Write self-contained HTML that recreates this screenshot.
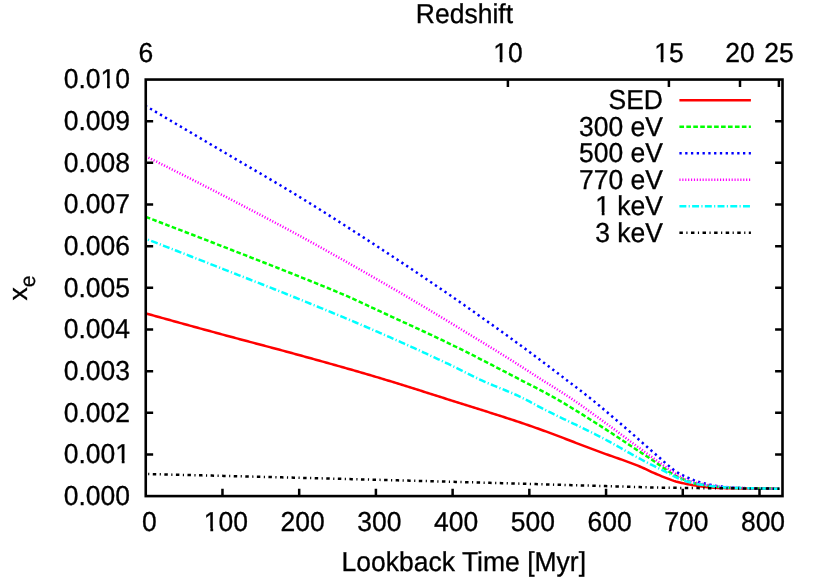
<!DOCTYPE html>
<html><head><meta charset="utf-8"><title>x_e vs Lookback Time</title>
<style>html,body{margin:0;padding:0;background:#fff}svg{display:block;will-change:transform}text{text-rendering:geometricPrecision;font-family:"Liberation Sans",sans-serif;font-size:26.5px;fill:#000;stroke:#000;stroke-width:.3px}</style></head><body>
<svg width="830" height="577" viewBox="0 0 830 577">
<rect width="830" height="577" fill="#fff"/>
<path d="M145.8,313.40 L147.8,313.96 L149.8,314.52 L151.8,315.07 L153.8,315.63 L155.8,316.19 L157.8,316.74 L159.8,317.30 L161.8,317.85 L163.8,318.41 L165.8,318.96 L167.8,319.52 L169.8,320.07 L171.8,320.63 L173.8,321.18 L175.8,321.73 L177.8,322.28 L179.8,322.84 L181.8,323.39 L183.8,323.94 L185.8,324.49 L187.8,325.04 L189.8,325.59 L191.8,326.14 L193.8,326.69 L195.8,327.24 L197.8,327.79 L199.8,328.34 L201.8,328.88 L203.8,329.43 L205.8,329.98 L207.8,330.53 L209.8,331.07 L211.8,331.62 L213.8,332.16 L215.8,332.71 L217.8,333.25 L219.8,333.80 L221.8,334.34 L223.8,334.89 L225.8,335.43 L227.8,335.97 L229.8,336.51 L231.8,337.05 L233.8,337.58 L235.8,338.12 L237.8,338.65 L239.8,339.19 L241.8,339.72 L243.8,340.25 L245.8,340.79 L247.8,341.32 L249.8,341.85 L251.8,342.38 L253.8,342.91 L255.8,343.44 L257.8,343.97 L259.8,344.50 L261.8,345.03 L263.8,345.57 L265.8,346.10 L267.8,346.63 L269.8,347.16 L271.8,347.69 L273.8,348.23 L275.8,348.76 L277.8,349.30 L279.8,349.83 L281.8,350.37 L283.8,350.91 L285.8,351.45 L287.8,351.99 L289.8,352.53 L291.8,353.08 L293.8,353.62 L295.8,354.17 L297.8,354.72 L299.8,355.27 L301.8,355.82 L303.8,356.37 L305.8,356.92 L307.8,357.48 L309.8,358.03 L311.8,358.58 L313.8,359.14 L315.8,359.69 L317.8,360.25 L319.8,360.80 L321.8,361.36 L323.8,361.92 L325.8,362.47 L327.8,363.03 L329.8,363.59 L331.8,364.15 L333.8,364.71 L335.8,365.28 L337.8,365.84 L339.8,366.41 L341.8,366.97 L343.8,367.54 L345.8,368.11 L347.8,368.68 L349.8,369.25 L351.8,369.82 L353.8,370.40 L355.8,370.97 L357.8,371.55 L359.8,372.13 L361.8,372.71 L363.8,373.29 L365.8,373.88 L367.8,374.46 L369.8,375.05 L371.8,375.64 L373.8,376.23 L375.8,376.83 L377.8,377.42 L379.8,378.02 L381.8,378.62 L383.8,379.23 L385.8,379.83 L387.8,380.44 L389.8,381.05 L391.8,381.66 L393.8,382.28 L395.8,382.90 L397.8,383.52 L399.8,384.14 L401.8,384.76 L403.8,385.38 L405.8,386.01 L407.8,386.63 L409.8,387.26 L411.8,387.89 L413.8,388.52 L415.8,389.15 L417.8,389.79 L419.8,390.42 L421.8,391.05 L423.8,391.69 L425.8,392.32 L427.8,392.96 L429.8,393.60 L431.8,394.23 L433.8,394.87 L435.8,395.51 L437.8,396.15 L439.8,396.78 L441.8,397.42 L443.8,398.06 L445.8,398.69 L447.8,399.33 L449.8,399.97 L451.8,400.60 L453.8,401.24 L455.8,401.87 L457.8,402.50 L459.8,403.13 L461.8,403.77 L463.8,404.39 L465.8,405.02 L467.8,405.65 L469.8,406.28 L471.8,406.91 L473.8,407.53 L475.8,408.16 L477.8,408.79 L479.8,409.42 L481.8,410.04 L483.8,410.67 L485.8,411.30 L487.8,411.93 L489.8,412.57 L491.8,413.20 L493.8,413.84 L495.8,414.47 L497.8,415.11 L499.8,415.75 L501.8,416.40 L503.8,417.04 L505.8,417.69 L507.8,418.34 L509.8,418.99 L511.8,419.65 L513.8,420.31 L515.8,420.97 L517.8,421.64 L519.8,422.31 L521.8,422.98 L523.8,423.66 L525.8,424.34 L527.8,425.02 L529.8,425.71 L531.8,426.41 L533.8,427.11 L535.8,427.82 L537.8,428.53 L539.8,429.25 L541.8,429.98 L543.8,430.71 L545.8,431.44 L547.8,432.18 L549.8,432.92 L551.8,433.67 L553.8,434.42 L555.8,435.17 L557.8,435.93 L559.8,436.68 L561.8,437.44 L563.8,438.20 L565.8,438.97 L567.8,439.73 L569.8,440.50 L571.8,441.26 L573.8,442.03 L575.8,442.80 L577.8,443.56 L579.8,444.33 L581.8,445.09 L583.8,445.86 L585.8,446.62 L587.8,447.38 L589.8,448.14 L591.8,448.89 L593.8,449.65 L595.8,450.40 L597.8,451.14 L599.8,451.89 L601.8,452.62 L603.8,453.35 L605.8,454.07 L607.8,454.78 L609.8,455.48 L611.8,456.19 L613.8,456.88 L615.8,457.58 L617.8,458.28 L619.8,458.98 L621.8,459.68 L623.8,460.40 L625.8,461.11 L627.8,461.84 L629.8,462.58 L631.8,463.33 L633.8,464.09 L635.8,464.87 L637.8,465.67 L639.8,466.49 L641.8,467.34 L643.8,468.24 L645.8,469.18 L647.8,470.14 L649.8,471.10 L651.8,472.02 L653.8,472.90 L655.8,473.77 L657.8,474.63 L659.8,475.47 L661.8,476.29 L663.8,477.09 L665.8,477.87 L667.8,478.66 L669.8,479.43 L671.8,480.17 L673.8,480.85 L675.8,481.46 L677.8,481.99 L679.8,482.48 L681.8,482.94 L683.8,483.37 L685.8,483.77 L687.8,484.16 L689.8,484.53 L691.8,484.90 L693.8,485.26 L695.8,485.60 L697.8,485.91 L699.8,486.20 L701.8,486.46 L703.8,486.69 L705.8,486.92 L707.8,487.14 L709.8,487.34 L711.8,487.52 L713.8,487.68 L715.8,487.81 L717.8,487.90 L719.8,487.97 L721.8,488.03 L723.8,488.09 L725.8,488.14 L727.8,488.18 L729.8,488.22 L731.8,488.25 L733.8,488.28 L735.8,488.31 L737.8,488.33 L739.8,488.36 L741.8,488.38 L743.8,488.39 L745.8,488.41 L747.8,488.43 L749.8,488.45 L751.8,488.47 L753.8,488.48 L755.8,488.50 L757.8,488.52 L759.8,488.54 L761.8,488.56 L763.8,488.57 L765.8,488.59 L767.8,488.61 L769.8,488.62 L771.8,488.64 L773.8,488.66 L775.8,488.67 L777.8,488.69 L779.3,488.70" fill="none" stroke="#ff0000" stroke-width="2.5"/>
<path d="M145.8,216.90 L147.8,217.66 L149.8,218.42 L151.8,219.19 L153.8,219.95 L155.8,220.71 L157.8,221.48 L159.8,222.24 L161.8,223.01 L163.8,223.77 L165.8,224.54 L167.8,225.30 L169.8,226.07 L171.8,226.83 L173.8,227.60 L175.8,228.37 L177.8,229.14 L179.8,229.90 L181.8,230.67 L183.8,231.44 L185.8,232.21 L187.8,232.98 L189.8,233.75 L191.8,234.52 L193.8,235.29 L195.8,236.07 L197.8,236.84 L199.8,237.61 L201.8,238.38 L203.8,239.16 L205.8,239.93 L207.8,240.70 L209.8,241.48 L211.8,242.25 L213.8,243.03 L215.8,243.80 L217.8,244.58 L219.8,245.35 L221.8,246.13 L223.8,246.91 L225.8,247.68 L227.8,248.46 L229.8,249.24 L231.8,250.01 L233.8,250.79 L235.8,251.57 L237.8,252.34 L239.8,253.12 L241.8,253.90 L243.8,254.68 L245.8,255.45 L247.8,256.23 L249.8,257.01 L251.8,257.79 L253.8,258.57 L255.8,259.35 L257.8,260.13 L259.8,260.91 L261.8,261.69 L263.8,262.47 L265.8,263.26 L267.8,264.04 L269.8,264.83 L271.8,265.61 L273.8,266.40 L275.8,267.19 L277.8,267.98 L279.8,268.77 L281.8,269.56 L283.8,270.35 L285.8,271.14 L287.8,271.94 L289.8,272.73 L291.8,273.53 L293.8,274.33 L295.8,275.13 L297.8,275.94 L299.8,276.74 L301.8,277.54 L303.8,278.35 L305.8,279.15 L307.8,279.95 L309.8,280.75 L311.8,281.56 L313.8,282.36 L315.8,283.17 L317.8,283.97 L319.8,284.78 L321.8,285.59 L323.8,286.40 L325.8,287.22 L327.8,288.03 L329.8,288.85 L331.8,289.68 L333.8,290.51 L335.8,291.34 L337.8,292.18 L339.8,293.03 L341.8,293.87 L343.8,294.73 L345.8,295.59 L347.8,296.46 L349.8,297.34 L351.8,298.22 L353.8,299.12 L355.8,300.03 L357.8,300.95 L359.8,301.88 L361.8,302.81 L363.8,303.75 L365.8,304.69 L367.8,305.63 L369.8,306.57 L371.8,307.51 L373.8,308.45 L375.8,309.38 L377.8,310.31 L379.8,311.24 L381.8,312.16 L383.8,313.09 L385.8,314.01 L387.8,314.93 L389.8,315.85 L391.8,316.77 L393.8,317.69 L395.8,318.60 L397.8,319.52 L399.8,320.44 L401.8,321.36 L403.8,322.28 L405.8,323.19 L407.8,324.11 L409.8,325.03 L411.8,325.95 L413.8,326.87 L415.8,327.80 L417.8,328.72 L419.8,329.65 L421.8,330.57 L423.8,331.50 L425.8,332.43 L427.8,333.37 L429.8,334.30 L431.8,335.24 L433.8,336.18 L435.8,337.12 L437.8,338.07 L439.8,339.02 L441.8,339.97 L443.8,340.93 L445.8,341.89 L447.8,342.85 L449.8,343.82 L451.8,344.79 L453.8,345.77 L455.8,346.75 L457.8,347.73 L459.8,348.72 L461.8,349.71 L463.8,350.71 L465.8,351.71 L467.8,352.71 L469.8,353.72 L471.8,354.73 L473.8,355.74 L475.8,356.76 L477.8,357.78 L479.8,358.80 L481.8,359.82 L483.8,360.85 L485.8,361.88 L487.8,362.91 L489.8,363.94 L491.8,364.97 L493.8,366.01 L495.8,367.04 L497.8,368.08 L499.8,369.12 L501.8,370.15 L503.8,371.19 L505.8,372.23 L507.8,373.27 L509.8,374.31 L511.8,375.35 L513.8,376.39 L515.8,377.43 L517.8,378.47 L519.8,379.51 L521.8,380.54 L523.8,381.58 L525.8,382.60 L527.8,383.63 L529.8,384.65 L531.8,385.67 L533.8,386.70 L535.8,387.73 L537.8,388.76 L539.8,389.80 L541.8,390.84 L543.8,391.90 L545.8,392.97 L547.8,394.04 L549.8,395.13 L551.8,396.24 L553.8,397.36 L555.8,398.50 L557.8,399.64 L559.8,400.80 L561.8,401.97 L563.8,403.16 L565.8,404.35 L567.8,405.55 L569.8,406.76 L571.8,407.98 L573.8,409.20 L575.8,410.44 L577.8,411.68 L579.8,412.92 L581.8,414.17 L583.8,415.43 L585.8,416.69 L587.8,417.95 L589.8,419.21 L591.8,420.48 L593.8,421.75 L595.8,423.02 L597.8,424.29 L599.8,425.56 L601.8,426.83 L603.8,428.11 L605.8,429.40 L607.8,430.69 L609.8,431.99 L611.8,433.30 L613.8,434.61 L615.8,435.93 L617.8,437.25 L619.8,438.57 L621.8,439.90 L623.8,441.23 L625.8,442.56 L627.8,443.88 L629.8,445.21 L631.8,446.54 L633.8,447.86 L635.8,449.18 L637.8,450.50 L639.8,451.81 L641.8,453.11 L643.8,454.40 L645.8,455.69 L647.8,456.98 L649.8,458.29 L651.8,459.63 L653.8,461.02 L655.8,462.44 L657.8,463.87 L659.8,465.31 L661.8,466.73 L663.8,468.11 L665.8,469.48 L667.8,470.85 L669.8,472.18 L671.8,473.45 L673.8,474.64 L675.8,475.77 L677.8,476.85 L679.8,477.83 L681.8,478.71 L683.8,479.53 L685.8,480.33 L687.8,481.07 L689.8,481.76 L691.8,482.38 L693.8,482.94 L695.8,483.42 L697.8,483.86 L699.8,484.26 L701.8,484.63 L703.8,484.96 L705.8,485.26 L707.8,485.55 L709.8,485.81 L711.8,486.06 L713.8,486.28 L715.8,486.49 L717.8,486.69 L719.8,486.86 L721.8,487.04 L723.8,487.20 L725.8,487.36 L727.8,487.50 L729.8,487.63 L731.8,487.75 L733.8,487.85 L735.8,487.93 L737.8,488.00 L739.8,488.06 L741.8,488.12 L743.8,488.17 L745.8,488.21 L747.8,488.26 L749.8,488.30 L751.8,488.33 L753.8,488.37 L755.8,488.41 L757.8,488.44 L759.8,488.47 L761.8,488.51 L763.8,488.54 L765.8,488.57 L767.8,488.59 L769.8,488.62 L771.8,488.64 L773.8,488.66 L775.8,488.68 L777.8,488.69 L779.3,488.70" fill="none" stroke="#00ff00" stroke-width="2.5" stroke-dasharray="4.63,2.31"/>
<path d="M145.8,106.00 L147.8,107.18 L149.8,108.36 L151.8,109.54 L153.8,110.73 L155.8,111.91 L157.8,113.09 L159.8,114.27 L161.8,115.45 L163.8,116.63 L165.8,117.81 L167.8,119.00 L169.8,120.18 L171.8,121.36 L173.8,122.54 L175.8,123.72 L177.8,124.90 L179.8,126.09 L181.8,127.27 L183.8,128.45 L185.8,129.63 L187.8,130.81 L189.8,132.00 L191.8,133.18 L193.8,134.36 L195.8,135.54 L197.8,136.73 L199.8,137.91 L201.8,139.09 L203.8,140.27 L205.8,141.46 L207.8,142.64 L209.8,143.82 L211.8,145.00 L213.8,146.19 L215.8,147.37 L217.8,148.55 L219.8,149.73 L221.8,150.92 L223.8,152.10 L225.8,153.27 L227.8,154.45 L229.8,155.63 L231.8,156.80 L233.8,157.97 L235.8,159.15 L237.8,160.32 L239.8,161.49 L241.8,162.66 L243.8,163.83 L245.8,165.00 L247.8,166.17 L249.8,167.34 L251.8,168.51 L253.8,169.68 L255.8,170.85 L257.8,172.02 L259.8,173.19 L261.8,174.37 L263.8,175.54 L265.8,176.72 L267.8,177.90 L269.8,179.08 L271.8,180.26 L273.8,181.45 L275.8,182.63 L277.8,183.82 L279.8,185.01 L281.8,186.21 L283.8,187.41 L285.8,188.61 L287.8,189.81 L289.8,191.02 L291.8,192.23 L293.8,193.44 L295.8,194.66 L297.8,195.89 L299.8,197.11 L301.8,198.34 L303.8,199.57 L305.8,200.81 L307.8,202.05 L309.8,203.29 L311.8,204.53 L313.8,205.78 L315.8,207.03 L317.8,208.28 L319.8,209.53 L321.8,210.79 L323.8,212.05 L325.8,213.31 L327.8,214.57 L329.8,215.84 L331.8,217.10 L333.8,218.37 L335.8,219.65 L337.8,220.92 L339.8,222.20 L341.8,223.47 L343.8,224.75 L345.8,226.04 L347.8,227.32 L349.8,228.61 L351.8,229.89 L353.8,231.18 L355.8,232.47 L357.8,233.77 L359.8,235.06 L361.8,236.36 L363.8,237.65 L365.8,238.95 L367.8,240.25 L369.8,241.55 L371.8,242.85 L373.8,244.16 L375.8,245.46 L377.8,246.77 L379.8,248.08 L381.8,249.39 L383.8,250.70 L385.8,252.02 L387.8,253.33 L389.8,254.65 L391.8,255.97 L393.8,257.29 L395.8,258.61 L397.8,259.94 L399.8,261.26 L401.8,262.59 L403.8,263.92 L405.8,265.25 L407.8,266.59 L409.8,267.92 L411.8,269.26 L413.8,270.60 L415.8,271.94 L417.8,273.29 L419.8,274.63 L421.8,275.98 L423.8,277.33 L425.8,278.68 L427.8,280.04 L429.8,281.39 L431.8,282.75 L433.8,284.12 L435.8,285.48 L437.8,286.84 L439.8,288.21 L441.8,289.58 L443.8,290.96 L445.8,292.33 L447.8,293.71 L449.8,295.09 L451.8,296.47 L453.8,297.86 L455.8,299.24 L457.8,300.63 L459.8,302.02 L461.8,303.42 L463.8,304.81 L465.8,306.21 L467.8,307.61 L469.8,309.01 L471.8,310.42 L473.8,311.83 L475.8,313.23 L477.8,314.65 L479.8,316.06 L481.8,317.48 L483.8,318.90 L485.8,320.32 L487.8,321.74 L489.8,323.17 L491.8,324.59 L493.8,326.02 L495.8,327.46 L497.8,328.89 L499.8,330.33 L501.8,331.77 L503.8,333.21 L505.8,334.66 L507.8,336.10 L509.8,337.55 L511.8,339.00 L513.8,340.46 L515.8,341.91 L517.8,343.37 L519.8,344.83 L521.8,346.30 L523.8,347.76 L525.8,349.23 L527.8,350.71 L529.8,352.18 L531.8,353.66 L533.8,355.15 L535.8,356.65 L537.8,358.15 L539.8,359.65 L541.8,361.16 L543.8,362.67 L545.8,364.18 L547.8,365.70 L549.8,367.22 L551.8,368.74 L553.8,370.27 L555.8,371.79 L557.8,373.32 L559.8,374.84 L561.8,376.37 L563.8,377.89 L565.8,379.42 L567.8,380.94 L569.8,382.46 L571.8,383.97 L573.8,385.49 L575.8,387.01 L577.8,388.54 L579.8,390.07 L581.8,391.60 L583.8,393.15 L585.8,394.71 L587.8,396.29 L589.8,397.88 L591.8,399.49 L593.8,401.11 L595.8,402.76 L597.8,404.41 L599.8,406.07 L601.8,407.75 L603.8,409.42 L605.8,411.11 L607.8,412.79 L609.8,414.48 L611.8,416.18 L613.8,417.88 L615.8,419.59 L617.8,421.30 L619.8,423.01 L621.8,424.73 L623.8,426.46 L625.8,428.19 L627.8,429.93 L629.8,431.66 L631.8,433.41 L633.8,435.15 L635.8,436.90 L637.8,438.66 L639.8,440.43 L641.8,442.22 L643.8,444.01 L645.8,445.78 L647.8,447.53 L649.8,449.28 L651.8,451.01 L653.8,452.74 L655.8,454.48 L657.8,456.22 L659.8,457.97 L661.8,459.77 L663.8,461.57 L665.8,463.34 L667.8,465.04 L669.8,466.71 L671.8,468.37 L673.8,469.95 L675.8,471.39 L677.8,472.63 L679.8,473.76 L681.8,474.79 L683.8,475.76 L685.8,476.68 L687.8,477.60 L689.8,478.50 L691.8,479.38 L693.8,480.21 L695.8,480.97 L697.8,481.64 L699.8,482.25 L701.8,482.81 L703.8,483.32 L705.8,483.80 L707.8,484.25 L709.8,484.67 L711.8,485.08 L713.8,485.47 L715.8,485.82 L717.8,486.12 L719.8,486.38 L721.8,486.61 L723.8,486.82 L725.8,487.01 L727.8,487.19 L729.8,487.35 L731.8,487.50 L733.8,487.63 L735.8,487.74 L737.8,487.84 L739.8,487.94 L741.8,488.03 L743.8,488.11 L745.8,488.18 L747.8,488.24 L749.8,488.29 L751.8,488.34 L753.8,488.38 L755.8,488.42 L757.8,488.46 L759.8,488.50 L761.8,488.53 L763.8,488.56 L765.8,488.59 L767.8,488.62 L769.8,488.65 L771.8,488.67 L773.8,488.68 L775.8,488.69 L777.8,488.70 L779.3,488.70" fill="none" stroke="#0000ff" stroke-width="2.5" stroke-dasharray="2.31,3.47" stroke-dashoffset="0.85"/>
<path d="M145.8,156.30 L147.8,157.29 L149.8,158.29 L151.8,159.28 L153.8,160.28 L155.8,161.27 L157.8,162.27 L159.8,163.27 L161.8,164.27 L163.8,165.27 L165.8,166.28 L167.8,167.28 L169.8,168.29 L171.8,169.29 L173.8,170.30 L175.8,171.31 L177.8,172.32 L179.8,173.33 L181.8,174.34 L183.8,175.35 L185.8,176.37 L187.8,177.38 L189.8,178.40 L191.8,179.41 L193.8,180.43 L195.8,181.45 L197.8,182.47 L199.8,183.49 L201.8,184.52 L203.8,185.54 L205.8,186.56 L207.8,187.59 L209.8,188.61 L211.8,189.64 L213.8,190.67 L215.8,191.70 L217.8,192.73 L219.8,193.76 L221.8,194.79 L223.8,195.82 L225.8,196.86 L227.8,197.89 L229.8,198.93 L231.8,199.96 L233.8,201.00 L235.8,202.04 L237.8,203.08 L239.8,204.12 L241.8,205.16 L243.8,206.20 L245.8,207.24 L247.8,208.28 L249.8,209.33 L251.8,210.37 L253.8,211.42 L255.8,212.47 L257.8,213.52 L259.8,214.57 L261.8,215.62 L263.8,216.67 L265.8,217.73 L267.8,218.78 L269.8,219.84 L271.8,220.90 L273.8,221.96 L275.8,223.02 L277.8,224.08 L279.8,225.15 L281.8,226.22 L283.8,227.29 L285.8,228.36 L287.8,229.43 L289.8,230.51 L291.8,231.59 L293.8,232.67 L295.8,233.75 L297.8,234.83 L299.8,235.92 L301.8,237.01 L303.8,238.10 L305.8,239.19 L307.8,240.29 L309.8,241.39 L311.8,242.49 L313.8,243.60 L315.8,244.70 L317.8,245.81 L319.8,246.93 L321.8,248.04 L323.8,249.15 L325.8,250.27 L327.8,251.39 L329.8,252.51 L331.8,253.63 L333.8,254.76 L335.8,255.88 L337.8,257.01 L339.8,258.14 L341.8,259.27 L343.8,260.40 L345.8,261.53 L347.8,262.66 L349.8,263.79 L351.8,264.93 L353.8,266.06 L355.8,267.20 L357.8,268.33 L359.8,269.47 L361.8,270.61 L363.8,271.75 L365.8,272.89 L367.8,274.03 L369.8,275.17 L371.8,276.31 L373.8,277.46 L375.8,278.61 L377.8,279.76 L379.8,280.91 L381.8,282.06 L383.8,283.21 L385.8,284.37 L387.8,285.52 L389.8,286.68 L391.8,287.84 L393.8,289.00 L395.8,290.17 L397.8,291.33 L399.8,292.50 L401.8,293.67 L403.8,294.85 L405.8,296.02 L407.8,297.20 L409.8,298.38 L411.8,299.56 L413.8,300.75 L415.8,301.93 L417.8,303.13 L419.8,304.32 L421.8,305.52 L423.8,306.71 L425.8,307.91 L427.8,309.12 L429.8,310.32 L431.8,311.53 L433.8,312.73 L435.8,313.94 L437.8,315.15 L439.8,316.36 L441.8,317.57 L443.8,318.79 L445.8,320.00 L447.8,321.21 L449.8,322.43 L451.8,323.64 L453.8,324.86 L455.8,326.07 L457.8,327.28 L459.8,328.50 L461.8,329.71 L463.8,330.93 L465.8,332.15 L467.8,333.36 L469.8,334.58 L471.8,335.80 L473.8,337.02 L475.8,338.24 L477.8,339.46 L479.8,340.68 L481.8,341.91 L483.8,343.13 L485.8,344.36 L487.8,345.59 L489.8,346.82 L491.8,348.05 L493.8,349.29 L495.8,350.52 L497.8,351.76 L499.8,353.01 L501.8,354.25 L503.8,355.50 L505.8,356.75 L507.8,358.00 L509.8,359.26 L511.8,360.52 L513.8,361.79 L515.8,363.07 L517.8,364.34 L519.8,365.63 L521.8,366.91 L523.8,368.20 L525.8,369.49 L527.8,370.78 L529.8,372.07 L531.8,373.36 L533.8,374.65 L535.8,375.93 L537.8,377.22 L539.8,378.50 L541.8,379.78 L543.8,381.05 L545.8,382.31 L547.8,383.56 L549.8,384.81 L551.8,386.05 L553.8,387.30 L555.8,388.55 L557.8,389.80 L559.8,391.06 L561.8,392.33 L563.8,393.61 L565.8,394.91 L567.8,396.22 L569.8,397.55 L571.8,398.90 L573.8,400.26 L575.8,401.64 L577.8,403.03 L579.8,404.43 L581.8,405.84 L583.8,407.26 L585.8,408.69 L587.8,410.12 L589.8,411.56 L591.8,413.00 L593.8,414.45 L595.8,415.89 L597.8,417.34 L599.8,418.79 L601.8,420.23 L603.8,421.69 L605.8,423.15 L607.8,424.62 L609.8,426.09 L611.8,427.57 L613.8,429.05 L615.8,430.54 L617.8,432.03 L619.8,433.52 L621.8,435.02 L623.8,436.51 L625.8,438.00 L627.8,439.49 L629.8,440.98 L631.8,442.46 L633.8,443.95 L635.8,445.42 L637.8,446.89 L639.8,448.35 L641.8,449.81 L643.8,451.26 L645.8,452.71 L647.8,454.15 L649.8,455.59 L651.8,457.03 L653.8,458.47 L655.8,459.90 L657.8,461.32 L659.8,462.75 L661.8,464.19 L663.8,465.65 L665.8,467.10 L667.8,468.54 L669.8,469.95 L671.8,471.32 L673.8,472.64 L675.8,473.92 L677.8,475.19 L679.8,476.41 L681.8,477.54 L683.8,478.52 L685.8,479.40 L687.8,480.22 L689.8,480.97 L691.8,481.64 L693.8,482.23 L695.8,482.73 L697.8,483.16 L699.8,483.55 L701.8,483.91 L703.8,484.26 L705.8,484.61 L707.8,484.96 L709.8,485.30 L711.8,485.63 L713.8,485.94 L715.8,486.22 L717.8,486.47 L719.8,486.68 L721.8,486.87 L723.8,487.05 L725.8,487.21 L727.8,487.37 L729.8,487.51 L731.8,487.63 L733.8,487.74 L735.8,487.83 L737.8,487.92 L739.8,488.00 L741.8,488.07 L743.8,488.14 L745.8,488.20 L747.8,488.25 L749.8,488.29 L751.8,488.34 L753.8,488.38 L755.8,488.41 L757.8,488.45 L759.8,488.49 L761.8,488.53 L763.8,488.56 L765.8,488.59 L767.8,488.62 L769.8,488.64 L771.8,488.66 L773.8,488.68 L775.8,488.69 L777.8,488.70 L779.3,488.70" fill="none" stroke="#ff00ff" stroke-width="2.5" stroke-dasharray="1.16,1.74"/>
<path d="M145.8,238.80 L147.8,239.58 L149.8,240.36 L151.8,241.13 L153.8,241.91 L155.8,242.69 L157.8,243.47 L159.8,244.25 L161.8,245.03 L163.8,245.81 L165.8,246.59 L167.8,247.37 L169.8,248.15 L171.8,248.93 L173.8,249.71 L175.8,250.49 L177.8,251.27 L179.8,252.06 L181.8,252.84 L183.8,253.62 L185.8,254.40 L187.8,255.18 L189.8,255.97 L191.8,256.75 L193.8,257.53 L195.8,258.32 L197.8,259.10 L199.8,259.89 L201.8,260.67 L203.8,261.45 L205.8,262.24 L207.8,263.02 L209.8,263.81 L211.8,264.59 L213.8,265.38 L215.8,266.17 L217.8,266.95 L219.8,267.74 L221.8,268.53 L223.8,269.31 L225.8,270.10 L227.8,270.89 L229.8,271.67 L231.8,272.46 L233.8,273.24 L235.8,274.03 L237.8,274.81 L239.8,275.59 L241.8,276.38 L243.8,277.16 L245.8,277.95 L247.8,278.73 L249.8,279.52 L251.8,280.30 L253.8,281.09 L255.8,281.87 L257.8,282.66 L259.8,283.45 L261.8,284.23 L263.8,285.02 L265.8,285.81 L267.8,286.60 L269.8,287.39 L271.8,288.18 L273.8,288.98 L275.8,289.77 L277.8,290.57 L279.8,291.36 L281.8,292.16 L283.8,292.96 L285.8,293.76 L287.8,294.56 L289.8,295.36 L291.8,296.17 L293.8,296.97 L295.8,297.78 L297.8,298.59 L299.8,299.40 L301.8,300.21 L303.8,301.03 L305.8,301.84 L307.8,302.65 L309.8,303.47 L311.8,304.28 L313.8,305.10 L315.8,305.92 L317.8,306.74 L319.8,307.55 L321.8,308.37 L323.8,309.19 L325.8,310.02 L327.8,310.84 L329.8,311.66 L331.8,312.49 L333.8,313.32 L335.8,314.14 L337.8,314.97 L339.8,315.80 L341.8,316.64 L343.8,317.47 L345.8,318.31 L347.8,319.14 L349.8,319.98 L351.8,320.83 L353.8,321.67 L355.8,322.51 L357.8,323.36 L359.8,324.21 L361.8,325.06 L363.8,325.92 L365.8,326.77 L367.8,327.63 L369.8,328.49 L371.8,329.36 L373.8,330.22 L375.8,331.09 L377.8,331.96 L379.8,332.83 L381.8,333.71 L383.8,334.59 L385.8,335.46 L387.8,336.34 L389.8,337.23 L391.8,338.11 L393.8,339.00 L395.8,339.89 L397.8,340.78 L399.8,341.67 L401.8,342.56 L403.8,343.46 L405.8,344.36 L407.8,345.26 L409.8,346.16 L411.8,347.07 L413.8,347.97 L415.8,348.88 L417.8,349.79 L419.8,350.71 L421.8,351.62 L423.8,352.54 L425.8,353.46 L427.8,354.38 L429.8,355.31 L431.8,356.24 L433.8,357.17 L435.8,358.10 L437.8,359.03 L439.8,359.97 L441.8,360.91 L443.8,361.85 L445.8,362.79 L447.8,363.74 L449.8,364.69 L451.8,365.64 L453.8,366.60 L455.8,367.57 L457.8,368.56 L459.8,369.56 L461.8,370.57 L463.8,371.59 L465.8,372.60 L467.8,373.62 L469.8,374.63 L471.8,375.63 L473.8,376.63 L475.8,377.61 L477.8,378.57 L479.8,379.51 L481.8,380.43 L483.8,381.33 L485.8,382.21 L487.8,383.08 L489.8,383.93 L491.8,384.76 L493.8,385.59 L495.8,386.41 L497.8,387.22 L499.8,388.04 L501.8,388.85 L503.8,389.67 L505.8,390.49 L507.8,391.32 L509.8,392.16 L511.8,393.01 L513.8,393.88 L515.8,394.76 L517.8,395.67 L519.8,396.60 L521.8,397.56 L523.8,398.55 L525.8,399.57 L527.8,400.62 L529.8,401.69 L531.8,402.78 L533.8,403.87 L535.8,404.96 L537.8,406.05 L539.8,407.13 L541.8,408.19 L543.8,409.22 L545.8,410.24 L547.8,411.25 L549.8,412.24 L551.8,413.23 L553.8,414.21 L555.8,415.19 L557.8,416.16 L559.8,417.12 L561.8,418.08 L563.8,419.03 L565.8,419.99 L567.8,420.94 L569.8,421.89 L571.8,422.84 L573.8,423.79 L575.8,424.74 L577.8,425.69 L579.8,426.65 L581.8,427.61 L583.8,428.57 L585.8,429.54 L587.8,430.52 L589.8,431.51 L591.8,432.50 L593.8,433.50 L595.8,434.51 L597.8,435.53 L599.8,436.56 L601.8,437.60 L603.8,438.66 L605.8,439.74 L607.8,440.82 L609.8,441.92 L611.8,443.03 L613.8,444.15 L615.8,445.27 L617.8,446.40 L619.8,447.53 L621.8,448.67 L623.8,449.80 L625.8,450.93 L627.8,452.07 L629.8,453.19 L631.8,454.31 L633.8,455.42 L635.8,456.53 L637.8,457.62 L639.8,458.70 L641.8,459.77 L643.8,460.82 L645.8,461.87 L647.8,462.91 L649.8,463.94 L651.8,464.97 L653.8,465.98 L655.8,466.97 L657.8,467.95 L659.8,468.93 L661.8,469.92 L663.8,470.92 L665.8,471.96 L667.8,473.04 L669.8,474.14 L671.8,475.20 L673.8,476.18 L675.8,477.10 L677.8,478.00 L679.8,478.87 L681.8,479.70 L683.8,480.46 L685.8,481.14 L687.8,481.74 L689.8,482.30 L691.8,482.82 L693.8,483.30 L695.8,483.75 L697.8,484.16 L699.8,484.52 L701.8,484.85 L703.8,485.16 L705.8,485.46 L707.8,485.73 L709.8,485.98 L711.8,486.21 L713.8,486.42 L715.8,486.60 L717.8,486.78 L719.8,486.95 L721.8,487.11 L723.8,487.26 L725.8,487.40 L727.8,487.53 L729.8,487.65 L731.8,487.76 L733.8,487.85 L735.8,487.93 L737.8,488.00 L739.8,488.06 L741.8,488.12 L743.8,488.17 L745.8,488.21 L747.8,488.26 L749.8,488.30 L751.8,488.33 L753.8,488.37 L755.8,488.41 L757.8,488.44 L759.8,488.47 L761.8,488.51 L763.8,488.54 L765.8,488.57 L767.8,488.59 L769.8,488.62 L771.8,488.64 L773.8,488.66 L775.8,488.68 L777.8,488.69 L779.3,488.70" fill="none" stroke="#00ffff" stroke-width="2.5" stroke-dasharray="6.94,2.31,1.16,2.31" stroke-dashoffset="6.94"/>
<path d="M145.8,474.00 L147.8,474.05 L149.8,474.10 L151.8,474.14 L153.8,474.19 L155.8,474.24 L157.8,474.29 L159.8,474.34 L161.8,474.38 L163.8,474.43 L165.8,474.48 L167.8,474.53 L169.8,474.58 L171.8,474.63 L173.8,474.67 L175.8,474.72 L177.8,474.77 L179.8,474.82 L181.8,474.87 L183.8,474.92 L185.8,474.97 L187.8,475.02 L189.8,475.06 L191.8,475.11 L193.8,475.16 L195.8,475.21 L197.8,475.26 L199.8,475.31 L201.8,475.36 L203.8,475.41 L205.8,475.46 L207.8,475.50 L209.8,475.55 L211.8,475.60 L213.8,475.65 L215.8,475.70 L217.8,475.75 L219.8,475.80 L221.8,475.85 L223.8,475.90 L225.8,475.95 L227.8,476.00 L229.8,476.05 L231.8,476.10 L233.8,476.15 L235.8,476.20 L237.8,476.25 L239.8,476.30 L241.8,476.35 L243.8,476.40 L245.8,476.45 L247.8,476.50 L249.8,476.55 L251.8,476.60 L253.8,476.65 L255.8,476.70 L257.8,476.75 L259.8,476.80 L261.8,476.85 L263.8,476.90 L265.8,476.95 L267.8,477.00 L269.8,477.05 L271.8,477.10 L273.8,477.15 L275.8,477.20 L277.8,477.25 L279.8,477.30 L281.8,477.35 L283.8,477.40 L285.8,477.45 L287.8,477.50 L289.8,477.55 L291.8,477.60 L293.8,477.65 L295.8,477.70 L297.8,477.76 L299.8,477.81 L301.8,477.86 L303.8,477.91 L305.8,477.96 L307.8,478.01 L309.8,478.06 L311.8,478.11 L313.8,478.16 L315.8,478.21 L317.8,478.27 L319.8,478.32 L321.8,478.37 L323.8,478.42 L325.8,478.47 L327.8,478.52 L329.8,478.57 L331.8,478.63 L333.8,478.68 L335.8,478.73 L337.8,478.78 L339.8,478.83 L341.8,478.88 L343.8,478.94 L345.8,478.99 L347.8,479.04 L349.8,479.09 L351.8,479.14 L353.8,479.19 L355.8,479.25 L357.8,479.30 L359.8,479.35 L361.8,479.40 L363.8,479.45 L365.8,479.51 L367.8,479.56 L369.8,479.61 L371.8,479.66 L373.8,479.72 L375.8,479.77 L377.8,479.82 L379.8,479.87 L381.8,479.93 L383.8,479.98 L385.8,480.03 L387.8,480.08 L389.8,480.14 L391.8,480.19 L393.8,480.24 L395.8,480.29 L397.8,480.35 L399.8,480.40 L401.8,480.45 L403.8,480.51 L405.8,480.56 L407.8,480.61 L409.8,480.67 L411.8,480.72 L413.8,480.77 L415.8,480.82 L417.8,480.88 L419.8,480.93 L421.8,480.98 L423.8,481.04 L425.8,481.09 L427.8,481.15 L429.8,481.20 L431.8,481.25 L433.8,481.31 L435.8,481.36 L437.8,481.41 L439.8,481.47 L441.8,481.52 L443.8,481.57 L445.8,481.63 L447.8,481.68 L449.8,481.74 L451.8,481.79 L453.8,481.84 L455.8,481.90 L457.8,481.95 L459.8,482.01 L461.8,482.06 L463.8,482.12 L465.8,482.17 L467.8,482.23 L469.8,482.28 L471.8,482.34 L473.8,482.39 L475.8,482.45 L477.8,482.50 L479.8,482.56 L481.8,482.61 L483.8,482.67 L485.8,482.72 L487.8,482.78 L489.8,482.83 L491.8,482.89 L493.8,482.94 L495.8,483.00 L497.8,483.06 L499.8,483.11 L501.8,483.17 L503.8,483.22 L505.8,483.28 L507.8,483.33 L509.8,483.39 L511.8,483.45 L513.8,483.50 L515.8,483.56 L517.8,483.61 L519.8,483.67 L521.8,483.73 L523.8,483.78 L525.8,483.84 L527.8,483.90 L529.8,483.95 L531.8,484.01 L533.8,484.07 L535.8,484.12 L537.8,484.18 L539.8,484.23 L541.8,484.29 L543.8,484.35 L545.8,484.40 L547.8,484.46 L549.8,484.52 L551.8,484.57 L553.8,484.63 L555.8,484.69 L557.8,484.74 L559.8,484.80 L561.8,484.85 L563.8,484.91 L565.8,484.97 L567.8,485.02 L569.8,485.08 L571.8,485.14 L573.8,485.19 L575.8,485.25 L577.8,485.31 L579.8,485.36 L581.8,485.42 L583.8,485.47 L585.8,485.53 L587.8,485.59 L589.8,485.64 L591.8,485.70 L593.8,485.75 L595.8,485.81 L597.8,485.87 L599.8,485.92 L601.8,485.98 L603.8,486.03 L605.8,486.09 L607.8,486.15 L609.8,486.20 L611.8,486.26 L613.8,486.32 L615.8,486.38 L617.8,486.45 L619.8,486.51 L621.8,486.57 L623.8,486.63 L625.8,486.70 L627.8,486.76 L629.8,486.82 L631.8,486.89 L633.8,486.95 L635.8,487.01 L637.8,487.07 L639.8,487.12 L641.8,487.18 L643.8,487.24 L645.8,487.29 L647.8,487.34 L649.8,487.39 L651.8,487.44 L653.8,487.48 L655.8,487.52 L657.8,487.56 L659.8,487.60 L661.8,487.63 L663.8,487.66 L665.8,487.69 L667.8,487.73 L669.8,487.76 L671.8,487.79 L673.8,487.82 L675.8,487.84 L677.8,487.87 L679.8,487.90 L681.8,487.93 L683.8,487.95 L685.8,487.98 L687.8,488.00 L689.8,488.03 L691.8,488.05 L693.8,488.07 L695.8,488.10 L697.8,488.12 L699.8,488.14 L701.8,488.16 L703.8,488.18 L705.8,488.20 L707.8,488.21 L709.8,488.23 L711.8,488.25 L713.8,488.26 L715.8,488.28 L717.8,488.29 L719.8,488.30 L721.8,488.32 L723.8,488.33 L725.8,488.34 L727.8,488.35 L729.8,488.36 L731.8,488.37 L733.8,488.37 L735.8,488.38 L737.8,488.39 L739.8,488.40 L741.8,488.41 L743.8,488.42 L745.8,488.43 L747.8,488.44 L749.8,488.45 L751.8,488.46 L753.8,488.47 L755.8,488.49 L757.8,488.50 L759.8,488.52 L761.8,488.54 L763.8,488.55 L765.8,488.57 L767.8,488.59 L769.8,488.61 L771.8,488.62 L773.8,488.64 L775.8,488.66 L777.8,488.68 L779.3,488.70" fill="none" stroke="#000000" stroke-width="2.5" stroke-dasharray="3.47,3.47,1.16,3.47" stroke-dashoffset="4.6"/>
<text transform="translate(663.00,109.13) scale(1,1.035)" text-anchor="end">SED</text>
<path d="M679.4,100.3 H750.9" fill="none" stroke="#ff0000" stroke-width="2.5"/>
<text transform="translate(663.00,135.63) scale(1,1.035)" text-anchor="end">300 eV</text>
<path d="M679.4,126.8 H750.9" fill="none" stroke="#00ff00" stroke-width="2.5" stroke-dasharray="4.63,2.31"/>
<text transform="translate(663.00,162.13) scale(1,1.035)" text-anchor="end">500 eV</text>
<path d="M679.4,153.3 H750.9" fill="none" stroke="#0000ff" stroke-width="2.5" stroke-dasharray="2.31,3.47"/>
<text transform="translate(663.00,188.63) scale(1,1.035)" text-anchor="end">770 eV</text>
<path d="M679.4,179.8 H750.9" fill="none" stroke="#ff00ff" stroke-width="2.5" stroke-dasharray="1.16,1.74"/>
<text transform="translate(663.00,215.13) scale(1,1.035)" text-anchor="end">1 keV</text>
<path d="M679.4,206.3 H750.9" fill="none" stroke="#00ffff" stroke-width="2.5" stroke-dasharray="6.94,2.31,1.16,2.31"/>
<text transform="translate(663.00,241.63) scale(1,1.035)" text-anchor="end">3 keV</text>
<path d="M679.4,232.8 H750.9" fill="none" stroke="#000000" stroke-width="2.5" stroke-dasharray="3.47,3.47,1.16,3.47"/>
<text transform="translate(130.00,504.93) scale(1,1.035)" text-anchor="end">0.000</text>
<text transform="translate(130.00,463.28) scale(1,1.035)" text-anchor="end">0.001</text>
<text transform="translate(130.00,421.62) scale(1,1.035)" text-anchor="end">0.002</text>
<text transform="translate(130.00,379.96) scale(1,1.035)" text-anchor="end">0.003</text>
<text transform="translate(130.00,338.31) scale(1,1.035)" text-anchor="end">0.004</text>
<text transform="translate(130.00,296.66) scale(1,1.035)" text-anchor="end">0.005</text>
<text transform="translate(130.00,255.00) scale(1,1.035)" text-anchor="end">0.006</text>
<text transform="translate(130.00,213.34) scale(1,1.035)" text-anchor="end">0.007</text>
<text transform="translate(130.00,171.69) scale(1,1.035)" text-anchor="end">0.008</text>
<text transform="translate(130.00,130.04) scale(1,1.035)" text-anchor="end">0.009</text>
<text transform="translate(130.00,88.38) scale(1,1.035)" text-anchor="end">0.010</text>
<text transform="translate(149.25,531.00) scale(1,1.035)" text-anchor="middle">0</text>
<text transform="translate(225.97,531.00) scale(1,1.035)" text-anchor="middle">100</text>
<text transform="translate(302.69,531.00) scale(1,1.035)" text-anchor="middle">200</text>
<text transform="translate(379.41,531.00) scale(1,1.035)" text-anchor="middle">300</text>
<text transform="translate(456.12,531.00) scale(1,1.035)" text-anchor="middle">400</text>
<text transform="translate(532.84,531.00) scale(1,1.035)" text-anchor="middle">500</text>
<text transform="translate(609.56,531.00) scale(1,1.035)" text-anchor="middle">600</text>
<text transform="translate(686.28,531.00) scale(1,1.035)" text-anchor="middle">700</text>
<text transform="translate(763.00,531.00) scale(1,1.035)" text-anchor="middle">800</text>
<text transform="translate(145.90,62.00) scale(1,1.035)" text-anchor="middle">6</text>
<text transform="translate(507.90,62.00) scale(1,1.035)" text-anchor="middle">10</text>
<text transform="translate(668.90,62.00) scale(1,1.035)" text-anchor="middle">15</text>
<text transform="translate(740.00,62.00) scale(1,1.035)" text-anchor="middle">20</text>
<text transform="translate(778.90,62.00) scale(1,1.035)" text-anchor="middle">25</text>
<path d="M145.75,454.45 h7.4 M782.5,454.45 h-7.4 M145.75,412.79 h7.4 M782.5,412.79 h-7.4 M145.75,371.13 h7.4 M782.5,371.13 h-7.4 M145.75,329.48 h7.4 M782.5,329.48 h-7.4 M145.75,287.83 h7.4 M782.5,287.83 h-7.4 M145.75,246.17 h7.4 M782.5,246.17 h-7.4 M145.75,204.51 h7.4 M782.5,204.51 h-7.4 M145.75,162.86 h7.4 M782.5,162.86 h-7.4 M145.75,121.21 h7.4 M782.5,121.21 h-7.4 M222.47,496.1 v-7.4 M299.19,496.1 v-7.4 M375.91,496.1 v-7.4 M452.62,496.1 v-7.4 M529.34,496.1 v-7.4 M606.06,496.1 v-7.4 M682.78,496.1 v-7.4 M759.50,496.1 v-7.4 M507.9,79.55 v7.4 M668.9,79.55 v7.4 M740.0,79.55 v7.4 M778.9,79.55 v7.4" fill="none" stroke="#000" stroke-width="2.5"/>
<rect x="145.75" y="79.55" width="636.75" height="416.55" fill="none" stroke="#000" stroke-width="2.6"/>
<rect x="596" y="212" width="5.75" height="4" fill="#fff"/>
<rect x="604.53" y="212" width="5.47" height="4" fill="#fff"/>
<rect x="116" y="460" width="5.75" height="4" fill="#fff"/>
<rect x="124.53" y="460" width="5.47" height="4" fill="#fff"/>
<rect x="102" y="85" width="5.02" height="4" fill="#fff"/>
<rect x="109.80" y="85" width="5.20" height="4" fill="#fff"/>
<rect x="205" y="528" width="5.38" height="4" fill="#fff"/>
<rect x="213.16" y="528" width="5.84" height="4" fill="#fff"/>
<rect x="494" y="59" width="5.68" height="4" fill="#fff"/>
<rect x="502.46" y="59" width="5.54" height="4" fill="#fff"/>
<rect x="655" y="59" width="5.68" height="4" fill="#fff"/>
<rect x="663.46" y="59" width="5.54" height="4" fill="#fff"/>
<text transform="translate(464.40,22.70) scale(1,1.035)" text-anchor="middle">Redshift</text>
<text transform="translate(463.80,571.00) scale(1,1.035)" text-anchor="middle">Lookback Time [Myr]</text>
<text transform="translate(27.1,300.5) rotate(-90)">x<tspan dy="8" font-size="21.2px">e</tspan></text>
</svg></body></html>
